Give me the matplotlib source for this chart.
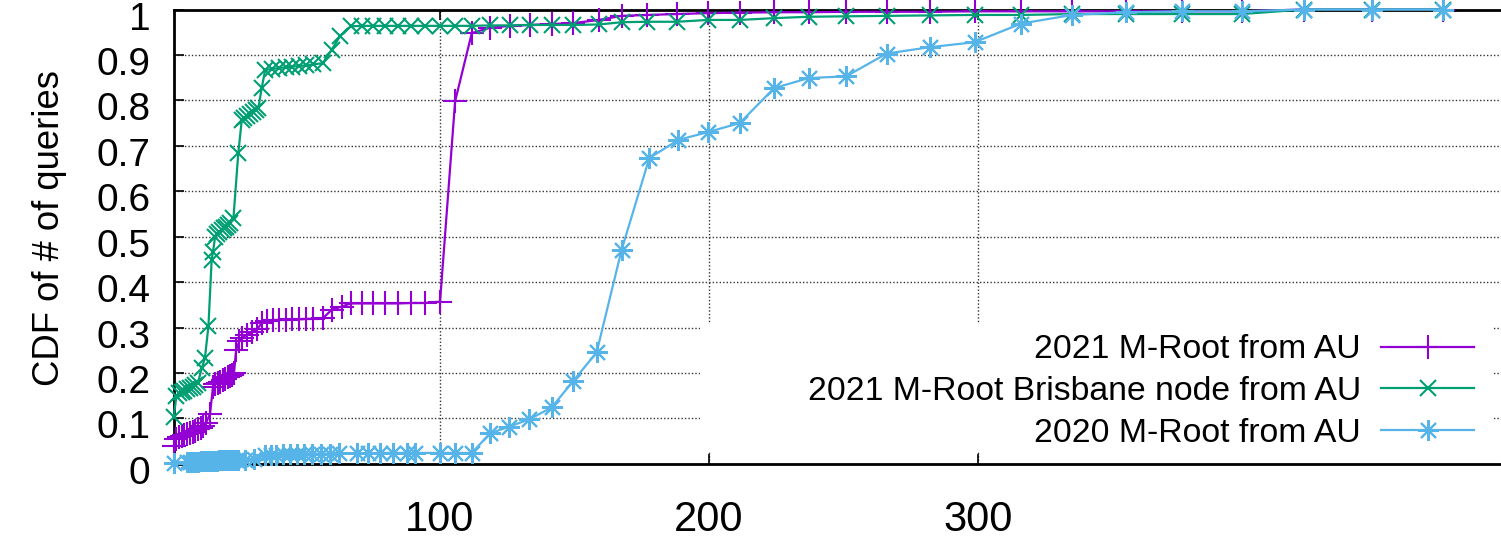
import matplotlib
matplotlib.use("Agg")
import matplotlib.pyplot as plt
from matplotlib.patches import Rectangle
from matplotlib.transforms import ScaledTranslation

plt.rcParams['font.family'] = ['Liberation Sans', 'DejaVu Sans']

# 2021 M-Root from AU
p_x = [1, 2, 3, 4, 5, 6, 7, 8, 9, 10, 11, 12, 13, 14.5, 15.6, 16.5, 17.4, 18.3, 19.2, 20.1,
       21, 21.9, 22.7, 23.4, 24.2, 25.4, 26.5, 28.1, 30, 31.9, 33.7, 35.8, 38, 40.1, 42.6,
       45.1, 47.6, 50.2, 52.9, 56.4, 59.7, 63.4, 66.8, 70.9, 75.2, 79.6, 84.3, 89.2, 94.4,
       100, 105.6, 111.8, 118.6, 126, 133.5, 141.5, 149.5, 159, 167.5, 177, 188, 199.5,
       211.4, 224.2, 237, 251, 266, 282, 298.7, 316, 335, 355, 376, 398, 421, 446.5, 473]
p_y = [0.04, 0.055, 0.06, 0.062, 0.064, 0.066, 0.068, 0.07, 0.073, 0.076, 0.079, 0.083, 0.09,
       0.11, 0.17, 0.175, 0.178, 0.181, 0.184, 0.187, 0.19, 0.193, 0.196, 0.2, 0.251, 0.27,
       0.278, 0.284, 0.29, 0.296, 0.309, 0.315, 0.316, 0.317, 0.317, 0.318, 0.318, 0.319,
       0.319, 0.32, 0.339, 0.346, 0.353, 0.353, 0.353, 0.353, 0.353, 0.354, 0.354, 0.357,
       0.798, 0.948, 0.96, 0.964, 0.966, 0.968, 0.97, 0.977, 0.986, 0.988, 0.99, 0.992,
       0.993, 0.994, 0.994, 0.995, 0.995, 0.995, 0.996, 0.996, 0.996, 0.996, 0.996, 0.996,
       1.0, 1.0, 1.0]

# 2021 M-Root Brisbane node from AU
g_x = [1, 2, 3, 4, 5, 6, 7, 8, 9, 10, 11.4, 12.6, 13.9, 15.1, 15.6, 16.4, 17.2, 18, 18.8,
       19.6, 20.4, 21.2, 22, 23.2, 25, 26.3, 27.3, 28.4, 29.5, 30.6, 31.6, 32.5, 33.7, 35,
       37.5, 40, 42.6, 45.1, 47.6, 50.2, 52.9, 56.4, 59.7, 62.8, 66.8, 70.9, 75.2, 79.6,
       84.3, 89.2, 94.4, 100, 105.6, 111.8, 118.6, 126, 133.5, 141.5, 149.5, 159, 167.5,
       177, 188, 199.5, 211.4, 224.2, 237, 251, 266, 282, 298.7, 316, 335, 355, 376, 398,
       421, 446.5, 473]
g_y = [0.102, 0.15, 0.155, 0.158, 0.161, 0.164, 0.167, 0.17, 0.174, 0.178, 0.21, 0.233,
       0.303, 0.449, 0.467, 0.5, 0.505, 0.51, 0.514, 0.518, 0.522, 0.526, 0.53, 0.541,
       0.684, 0.757, 0.762, 0.766, 0.77, 0.774, 0.779, 0.784, 0.827, 0.867, 0.869, 0.871,
       0.873, 0.874, 0.876, 0.877, 0.879, 0.882, 0.911, 0.941, 0.963, 0.964, 0.964, 0.964,
       0.964, 0.964, 0.964, 0.964, 0.964, 0.964, 0.965, 0.965, 0.966, 0.966, 0.966, 0.967,
       0.972, 0.973, 0.973, 0.977, 0.977, 0.981, 0.984, 0.985, 0.986, 0.987, 0.988, 0.988,
       0.99, 0.99, 0.99, 0.99, 1.0, 1.0, 1.0]

# 2020 M-Root from AU
b_x = [1, 6, 7, 8, 9, 10, 11, 12, 13, 14, 15, 16, 17, 18, 19, 20, 21, 22, 23, 24, 25, 27.6,
       31, 34.9, 37, 39.2, 41.6, 44.1, 46.7, 49.5, 52.5, 55.6, 59, 62.5, 69, 73.4, 77.7,
       82.6, 87.6, 90.7, 100, 105.6, 111.8, 118.6, 125.8, 133.2, 141.5, 149.6, 158.2, 167.5,
       177.8, 188.6, 199.5, 211.4, 224.2, 237, 251, 266, 282, 298.7, 316, 335, 355, 376, 398,
       421, 446.5, 473]
b_y = [0.001, 0.004, 0.004, 0.005, 0.005, 0.005, 0.006, 0.006, 0.006, 0.007, 0.007, 0.007,
       0.007, 0.008, 0.008, 0.008, 0.008, 0.009, 0.009, 0.009, 0.009, 0.009, 0.01, 0.019,
       0.02, 0.02, 0.021, 0.021, 0.021, 0.022, 0.022, 0.022, 0.022, 0.023, 0.023, 0.023,
       0.024, 0.024, 0.024, 0.024, 0.024, 0.024, 0.024, 0.067, 0.082, 0.098, 0.124, 0.183,
       0.245, 0.471, 0.673, 0.713, 0.73, 0.75, 0.827, 0.849, 0.853, 0.903, 0.917, 0.928,
       0.969, 0.988, 0.994, 0.996, 0.996, 1.0, 1.0, 1.0]

labels = ["2021 M-Root from AU", "2021 M-Root Brisbane node from AU", "2020 M-Root from AU"]
colors = ["#9400d3", "#009e73", "#56b4e9"]

fig = plt.figure(figsize=(15.01, 5.44), dpi=100)
ax = fig.add_axes([174 / 1501, 1 - 463.8 / 544, 1 - 174 / 1501, (463.8 - 9.5) / 544])

ax.plot(p_x, p_y, color=colors[0], lw=1.6, marker='+', ms=17, mew=1.5,
        label=labels[0], clip_on=False, zorder=3)
ax.plot(g_x, g_y, color=colors[1], lw=1.6, marker='x', ms=12, mew=1.5,
        label=labels[1], clip_on=False, zorder=3)
ax.plot(b_x, b_y, color=colors[2], lw=1.6, marker=(8, 2, 0), ms=15, mew=1.5,
        label=labels[2], clip_on=False, zorder=3)

ax.set_xlim(1.1, 494.4)
ax.set_ylim(0, 1)
ax.set_xticks([100, 200, 300])
ax.set_yticks([i / 10 for i in range(11)])
ax.set_yticklabels(["0", "0.1", "0.2", "0.3", "0.4", "0.5", "0.6", "0.7", "0.8", "0.9", "1"])
ax.tick_params(axis='both', direction='in', length=7, width=1.2)
ax.tick_params(axis='x', top=True, pad=26, labelsize=30)
ax.tick_params(axis='y', pad=17, labelsize=28)
shift = ScaledTranslation(0, -6 / 100, fig.dpi_scale_trans)
for lab in ax.get_yticklabels():
    lab.set_transform(lab.get_transform() + shift)

ax.set_axisbelow(True)
ax.grid(True, color='#333333', lw=1.0, linestyle=(0, (1, 1.5)))
for s in ['left', 'bottom', 'top']:
    ax.spines[s].set_linewidth(2)
ax.spines['right'].set_visible(False)

# opaque key area
ax.add_patch(Rectangle((0.3964, 0.026), 0.5966, 0.282, transform=ax.transAxes,
                       facecolor='white', edgecolor='none', zorder=1))

leg = ax.legend(loc='upper right', bbox_to_anchor=(0.98, 0.285), frameon=False,
                markerfirst=False, fontsize=24.3, handlelength=2.76, handletextpad=0.6,
                labelspacing=0.32, borderpad=0, borderaxespad=0)

fig.text(50 / 1501, 1 - 228 / 544, "CDF of # of queries", rotation=90,
         ha='center', va='center', fontsize=26.3)

fig.savefig("out.png", dpi=100)
